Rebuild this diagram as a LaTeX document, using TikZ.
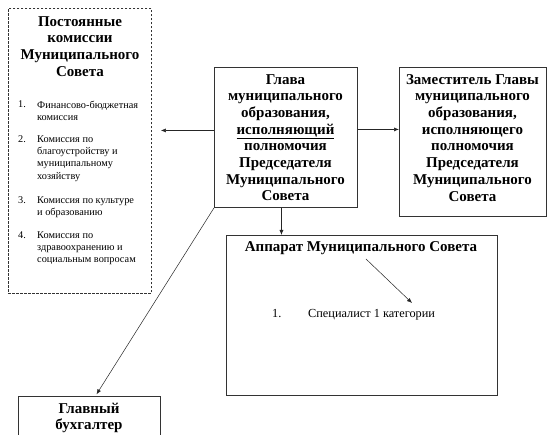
\documentclass[tikz,border=0pt]{standalone}
\usepackage{fontspec}
\setmainfont{Liberation Serif}
\usetikzlibrary{arrows.meta,calc}
\begin{document}
\begin{tikzpicture}[x=1pt,y=-1pt,
  box/.style={draw=black!80, line width=0.9pt, inner sep=0, anchor=north west},
  dbox/.style={box, dash pattern=on 2.5pt off 1.5pt},
  big/.style={font=\bfseries\fontsize{15}{16.7}\selectfont, align=center, inner sep=0, anchor=north},
  small/.style={font=\fontsize{10.3}{12.2}\selectfont, align=left, inner sep=0, anchor=north west},
  arr/.style={-{Latex[length=5pt,width=4pt]}, line width=0.5pt, draw=black!85}]
\clip (0,0) rectangle (547,435);
\fill[white] (0,0) rectangle (547,435);

% boxes
\node[dbox, minimum width=143pt, minimum height=285pt] (komis) at (8,8) {};
\node[box, minimum width=143pt, minimum height=140pt] (glava) at (214,67) {};
\node[box, minimum width=147pt, minimum height=149pt] (zam) at (399,67) {};
\node[box, minimum width=271pt, minimum height=160pt] (apparat) at (226,235) {};
\node[box, minimum width=142pt, minimum height=60pt] (buh) at (18,396) {};

% texts
\node[big] (komistitle) at (80,16) {Постоянные\\комиссии\\Муниципального\\Совета};
\node[small] (n1) at (18,100.5) {1.};
\node[small] (t1) at (37,100.5) {Финансово-бюджетная\\комиссия};
\node[small] (n2) at (18,135.5) {2.};
\node[small] (t2) at (37,135.5) {Комиссия по\\благоустройству и\\муниципальному\\хозяйству};
\node[small] (n3) at (18,196.5) {3.};
\node[small] (t3) at (37,196.5) {Комиссия по культуре\\и образованию};
\node[small] (n4) at (18,231.5) {4.};
\node[small] (t4) at (37,231.5) {Комиссия по\\здравоохранению и\\социальным вопросам};

\node[big] (glavatext) at (285.5,74) {Глава\\муниципального\\образования,\\\underline{исполняющий}\\полномочия\\Председателя\\Муниципального\\Совета};
\node[big] (zamtext) at (472.5,74) {Заместитель Главы\\муниципального\\образования,\\исполняющего\\полномочия\\Председателя\\Муниципального\\Совета};
\node[big] (aptitle) at (361,241.5) {Аппарат Муниципального Совета};
\node[small, font=\fontsize{12.3}{14}\selectfont] (sn) at (272,309.5) {1.};
\node[small, font=\fontsize{12.3}{14}\selectfont] (st) at (308,309.5) {Специалист 1 категории};
\node[big] (buhtext) at (89,402.5) {Главный\\бухгалтер};

% connectors
\coordinate (a1) at ([yshift=7pt]glava.west);
\draw[arr, shorten >=9pt] (a1) -- (a1 -| komis.east);
\coordinate (a2) at ([yshift=8pt]glava.east);
\draw[arr] (a2) -- (a2 -| zam.west);
\coordinate (d1) at ([xshift=-4.5pt]glava.south);
\draw[arr] (d1) -- (d1 |- apparat.north);
\coordinate (b1) at ([xshift=6pt]buh.north);
\draw[arr, shorten >=2pt] (glava.south west) -- (b1);
\coordinate (s1) at (366,259);
\coordinate (s2) at (412,303);
\draw[arr] (s1) -- (s2);
\end{tikzpicture}
\end{document}
